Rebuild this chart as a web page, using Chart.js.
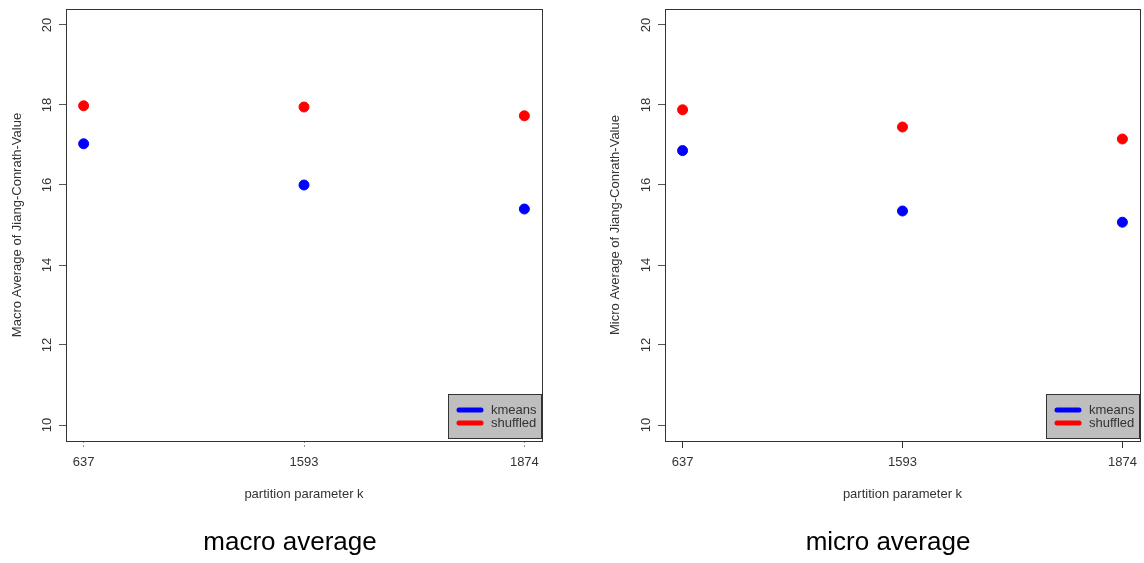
<!DOCTYPE html>
<html>
<head>
<meta charset="utf-8">
<script src="https://cdn.jsdelivr.net/npm/chart.js@4.4.0/dist/chart.umd.min.js"></script>
<style>
  html, body { margin: 0; padding: 0; background: #fff; overflow: hidden; }
  .panel { position: absolute; top: 0; width: 580px; height: 563px; }
  #left { left: 0; }
  #right { left: 598px; }
</style>
</head>
<body>
<div class="panel" id="left"><canvas id="macro"></canvas></div>
<div class="panel" id="right"><canvas id="micro"></canvas></div>
<script>
// data
const kValues = ['637', '1593', '1874'];
const xPos = [1, 2, 3];
const yTicks = [10, 12, 14, 16, 18, 20];
const seriesNames = ['kmeans', 'shuffled'];
const seriesColors = ['#0000ff', '#ff0000'];

const macroKmeans = [17.03, 16.0, 15.4];
const macroShuffled = [17.98, 17.95, 17.73];
const microKmeans = [16.86, 15.35, 15.07];
const microShuffled = [17.88, 17.45, 17.15];

const FONT = '"Liberation Sans", Arial, Helvetica, sans-serif';

// R-style box, rotated y labels, legend in the bottom right corner and the caption
const rStylePlugin = {
    id: 'rStyle',
    afterDraw(chart, args, opts) {
        const ctx = chart.ctx;
        const area = chart.chartArea;
        const yScale = chart.scales.y;
        ctx.save();
        ctx.strokeStyle = '#333';
        ctx.lineWidth = 1;
        ctx.strokeRect(area.left + 0.5, area.top + 0.5, area.right - area.left, area.bottom - area.top);

        ctx.fillStyle = '#333';
        ctx.font = '13px ' + FONT;
        ctx.textAlign = 'center';
        ctx.textBaseline = 'middle';
        yTicks.forEach(function(v) {
            const py = yScale.getPixelForValue(v);
            ctx.save();
            ctx.translate(area.left - 19, py);
            ctx.rotate(-Math.PI / 2);
            ctx.fillText(String(v), 0, 0);
            ctx.restore();
        });

        // legend
        const bx = area.right - 94;
        const by = area.bottom - 47;
        ctx.fillStyle = '#bebebe';
        ctx.fillRect(bx, by, 93, 44);
        ctx.strokeStyle = '#333';
        ctx.strokeRect(bx + 0.5, by + 0.5, 93, 44);
        ctx.lineWidth = 5;
        ctx.lineCap = 'round';
        ctx.textAlign = 'left';
        chart.data.datasets.forEach(function(ds, i) {
            const ly = by + 16 + i * 13;
            ctx.strokeStyle = ds.backgroundColor;
            ctx.beginPath();
            ctx.moveTo(bx + 11, ly);
            ctx.lineTo(bx + 33, ly);
            ctx.stroke();
            ctx.fillStyle = '#333';
            ctx.fillText(ds.label, bx + 43, ly);
        });

        // caption under the plot
        ctx.fillStyle = '#000';
        ctx.font = '26px ' + FONT;
        ctx.textAlign = 'center';
        ctx.fillText(opts.caption, chart.width / 2, 543);
        ctx.restore();
    }
};

function makePanel(canvasId, caption, yLabel, kmeans, shuffled, plotLeft, tickDash) {
    const seriesValues = [kmeans, shuffled];
    const datasets = seriesNames.map(function(name, s) {
        return {
            label: name,
            data: xPos.map((x, i) => ({ x: x, y: seriesValues[s][i] })),
            backgroundColor: seriesColors[s],
            borderColor: seriesColors[s],
            pointRadius: 5,
            pointHoverRadius: 5,
            showLine: false
        };
    });

    return new Chart(document.getElementById(canvasId), {
        type: 'scatter',
        data: { datasets: datasets },
        options: {
            responsive: true,
            maintainAspectRatio: false,
            animation: false,
            layout: { padding: { top: 9, right: 38, bottom: 0, left: 0 } },
            plugins: {
                legend: { display: false },
                tooltip: { enabled: false },
                rStyle: { caption: caption }
            },
            scales: {
                x: {
                    type: 'linear',
                    min: 0.92,
                    max: 3.08,
                    afterBuildTicks: function(scale) {
                        scale.ticks = xPos.map(v => ({ value: v }));
                    },
                    afterFit: function(scale) { scale.height = 122; },
                    border: { display: false },
                    grid: {
                        drawOnChartArea: false,
                        drawTicks: true,
                        tickLength: 7,
                        tickColor: tickDash ? '#999' : '#333',
                        tickBorderDash: tickDash ? [2, 2] : []
                    },
                    ticks: {
                        color: '#333',
                        padding: 7,
                        maxRotation: 0,
                        font: { family: FONT, size: 13 },
                        callback: function(v) { return kValues[v - 1]; }
                    },
                    title: {
                        display: true,
                        text: 'partition parameter k',
                        color: '#333',
                        font: { family: FONT, size: 13 },
                        padding: { top: 0, bottom: 61.2 }
                    }
                },
                y: {
                    type: 'linear',
                    min: 9.6,
                    max: 20.4,
                    afterBuildTicks: function(scale) {
                        scale.ticks = yTicks.map(v => ({ value: v }));
                    },
                    afterFit: function(scale) { scale.width = plotLeft; },
                    border: { display: false },
                    grid: {
                        drawOnChartArea: false,
                        drawTicks: true,
                        tickLength: 7,
                        tickColor: '#555'
                    },
                    ticks: { display: false },
                    title: {
                        display: true,
                        text: yLabel,
                        color: '#333',
                        font: { family: FONT, size: 13 },
                        padding: { top: 10, bottom: 0 }
                    }
                }
            }
        },
        plugins: [rStylePlugin]
    });
}

makePanel('macro', 'macro average', 'Macro Average of Jiang-Conrath-Value', macroKmeans, macroShuffled, 66, true);
makePanel('micro', 'micro average', 'Micro Average of Jiang-Conrath-Value', microKmeans, microShuffled, 67, false);
</script>
</body>
</html>
